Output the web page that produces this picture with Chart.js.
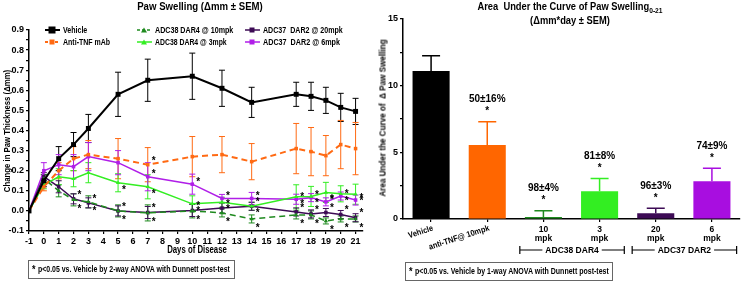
<!DOCTYPE html>
<html>
<head>
<meta charset="utf-8">
<script src="https://cdn.jsdelivr.net/npm/chart.js@4.4.1/dist/chart.umd.min.js"></script>
<style>
  body { margin: 0; background: #fff; }
  #wrap { position: relative; width: 742px; height: 282px; overflow: hidden;
    font-family: "Liberation Sans Narrow", "Liberation Sans", Arial, sans-serif; font-weight: bold; color: #000; }
  canvas { position: absolute; top: 0; }
  .t { position: absolute; white-space: nowrap; }
  .note { position: absolute; border: 1px solid #666; height: 19px; box-sizing: border-box; }
  .note span { position: absolute; left: 3px; top: 0; line-height: 17px; font-size: 8.5px; white-space: nowrap; transform-origin: left center; }
  .note b { font-size: 11px; vertical-align: -1px; margin-right: 3px; }
  .leg { position: absolute; font-size: 8.5px; white-space: nowrap; }
  .leg svg { position: absolute; left: 0; top: 2px; }
  .leg span { position: absolute; left: 18px; top: 0; line-height: 12px; transform-origin: left center; }
</style>
</head>
<body>
<div id="wrap">
  <canvas id="left" width="375" height="282" style="left:0"></canvas>
  <canvas id="right" width="367" height="282" style="left:375px"></canvas>

  <div class="t fit" data-w="126" data-t="translateX(-50%)" style="left:200px;top:0px;font-size:11px;">Paw Swelling (&Delta;mm &plusmn; SEM)</div>
  <div class="t fit" data-w="122" data-t="translate(-50%,-50%) rotate(-90deg)" style="left:6px;top:131px;font-size:9.5px;">Change in Paw Thickness (&Delta;mm)</div>
  <div class="t fit" data-w="60" data-t="translate(-50%,-50%)" style="left:197px;top:249px;font-size:10.5px;">Days of Disease</div>
  <div class="note" style="left:28px;top:260px;width:207px;"><span class="fit" data-w="198"><b>*</b>p&lt;0.05 vs. Vehicle by 2-way ANOVA with Dunnett post-test</span></div>

  <div class="t fit" data-w="185" data-t="translateX(-50%)" style="left:570px;top:0px;font-size:10.5px;">Area&nbsp; Under the Curve of Paw Swelling<sub style="font-size:7.5px">0-21</sub></div>
  <div class="t fit" data-w="80" data-t="translateX(-50%)" style="left:570px;top:14px;font-size:10.5px;">(&Delta;mm*day &plusmn; SEM)</div>
  <div class="t fit" data-w="157" data-t="translate(-50%,-50%) rotate(-90deg)" style="left:382px;top:118px;font-size:9.5px;">Area Under the Curve of &nbsp;&Delta; Paw Swelling</div>
  <div class="note" style="left:405px;top:262px;width:208px;"><span class="fit" data-w="200"><b>*</b>p&lt;0.05 vs. Vehicle by 1-way ANOVA with Dunnett post-test</span></div>
  <div id="legend"></div>
</div>

<script>
// ---- left panel: paw swelling over time ----
const days = [-1, 0, 1, 2, 3, 5, 7, 10, 12, 14, 17, 18, 19, 20, 21];

const vehicle    = [0, 0.15, 0.26, 0.33, 0.41, 0.58, 0.65, 0.67, 0.61, 0.54, 0.58, 0.57, 0.55, 0.515, 0.495];
const vehicleSem = [0, 0.03, 0.06, 0.06, 0.07, 0.11, 0.105, 0.115, 0.09, 0.075, 0.06, 0.07, 0.065, 0.07, 0.065];

const antiTnf    = [0, 0.12, 0.20, 0.26, 0.28, 0.26, 0.23, 0.27, 0.28, 0.245, 0.31, 0.295, 0.275, 0.33, 0.31];
const antiTnfSem = [0, 0.02, 0.04, 0.06, 0.07, 0.10, 0.085, 0.10, 0.09, 0.09, 0.125, 0.12, 0.10, 0.12, 0.13];

const adc38Hi    = [0, 0.16, 0.10, 0.055, 0.045, 0.0, -0.01, 0.0, -0.01, -0.04, -0.02, -0.02, -0.05, -0.04, -0.04];
const adc38HiSem = [0, 0.02, 0.03, 0.03, 0.03, 0.03, 0.04, 0.035, 0.02, 0.02, 0.02, 0.02, 0.015, 0.015, 0.015];

const adc38Lo    = [0, 0.13, 0.17, 0.16, 0.19, 0.14, 0.12, 0.035, 0.043, 0.023, 0.07, 0.072, 0.092, 0.085, 0.083];
const adc38LoSem = [0, 0.02, 0.04, 0.04, 0.05, 0.045, 0.06, 0.04, 0.025, 0.02, 0.06, 0.05, 0.05, 0.04, 0.05];

const adc37Hi    = [0, 0.17, 0.12, 0.06, 0.04, 0.0, -0.008, 0.002, 0.014, 0.023, -0.005, -0.015, -0.008, -0.018, -0.034];
const adc37HiSem = [0, 0.02, 0.03, 0.025, 0.025, 0.025, 0.03, 0.03, 0.025, 0.02, 0.02, 0.02, 0.02, 0.02, 0.02];

const adc37Lo    = [0, 0.20, 0.23, 0.22, 0.27, 0.24, 0.17, 0.133, 0.062, 0.062, 0.058, 0.066, 0.045, 0.074, 0.054];
const adc37LoSem = [0, 0.04, 0.05, 0.06, 0.07, 0.06, 0.07, 0.05, 0.02, 0.03, 0.025, 0.02, 0.02, 0.02, 0.025];

// days that carry a significance star, per group
const antiTnfStars = [7];
const adc38HiStars = [2, 3, 5, 7, 10, 12, 14, 17, 18, 19, 20, 21];
const adc38LoStars = [5, 7, 10, 12, 14, 17, 18, 19, 20, 21];
const adc37HiStars = [2, 3, 5, 7, 10, 12, 14, 17, 18, 19, 20, 21];
const adc37LoStars = [7, 10, 12, 14, 17, 18, 19, 20, 21];

const yRangeLeft = [-0.1, 0.9];
const xTicksLeft = [-1, 0, 1, 2, 3, 4, 5, 6, 7, 8, 9, 10, 11, 12, 13, 14, 15, 16, 17, 18, 19, 20, 21];

// ---- right panel: AUC bars ----
const groups   = ['Vehicle', 'anti-TNF@ 10mpk', ['10', 'mpk'], ['3', 'mpk'], ['20', 'mpk'], ['6', 'mpk']];
const auc      = [11.1, 5.55, 0.15, 2.08, 0.43, 2.83];
const aucSem   = [1.15, 1.75, 0.47, 0.95, 0.37, 0.97];
const inhibit  = [null, '50\u00b116%', '98\u00b14%', '81\u00b18%', '96\u00b13%', '74\u00b19%'];
const brackets = [{ label: 'ADC38 DAR4', from: 2, to: 3 }, { label: 'ADC37 DAR2', from: 4, to: 5 }];

const FONT = '"Liberation Sans Narrow", "Liberation Sans", Arial, sans-serif';
const C = {
  vehicle: '#000000', tnf: '#ff6a13', g10: '#1f8a1f', g3: '#33ee22', p20: '#3d0b55', p6: '#b01ee8'
};

const toXY = (vals) => vals.map((v, i) => ({ x: days[i], y: v }));

const series = [
  { label: 'Vehicle', data: vehicle, sem: vehicleSem, color: C.vehicle, dash: [], shape: 'rect', r: 3.5, w: 2, stars: [], sdy: 0 },
  { label: 'Anti-TNF mAb', data: antiTnf, sem: antiTnfSem, color: C.tnf, dash: [6, 4], shape: 'rect', r: 2.5, w: 2, stars: antiTnfStars, sdy: -5 },
  { label: 'ADC38 DAR4 @ 10mpk', data: adc38Hi, sem: adc38HiSem, color: C.g10, dash: [6, 4], shape: 'triangle', r: 2.5, w: 1.5, stars: adc38HiStars, sdy: 7 },
  { label: 'ADC38 DAR4 @ 3mpk', data: adc38Lo, sem: adc38LoSem, color: C.g3, dash: [], shape: 'triangle', r: 2.5, w: 1.5, stars: adc38LoStars, sdy: 5 },
  { label: 'ADC37  DAR2 @ 20mpk', data: adc37Hi, sem: adc37HiSem, color: C.p20, dash: [], shape: 'rect', r: 2.5, w: 1.5, stars: adc37HiStars, sdy: -6 },
  { label: 'ADC37  DAR2 @ 6mpk', data: adc37Lo, sem: adc37LoSem, color: C.p6, dash: [], shape: 'rect', r: 2.5, w: 1.5, stars: adc37LoStars, sdy: -4 }
];

// error bars drawn under the markers
const errorBars = {
  id: 'errorBars',
  beforeDatasetsDraw(chart, args, opts) {
    const ctx = chart.ctx;
    chart.data.datasets.forEach((ds, i) => {
      if (!ds.sem) return;
      const meta = chart.getDatasetMeta(i);
      const ys = chart.scales[meta.yAxisID];
      ctx.save();
      ctx.strokeStyle = ds.borderColor;
      ctx.lineWidth = opts.width || 1;
      meta.data.forEach((el, j) => {
        const v = ds.data[j].y;
        const e = ds.sem[j];
        if (!e) return;
        const top = ys.getPixelForValue(v + e);
        const bot = ys.getPixelForValue(v - e);
        const cap = opts.cap || 3;
        ctx.beginPath();
        ctx.moveTo(el.x, top); ctx.lineTo(el.x, bot);
        ctx.moveTo(el.x - cap, top); ctx.lineTo(el.x + cap, top);
        ctx.moveTo(el.x - cap, bot); ctx.lineTo(el.x + cap, bot);
        ctx.stroke();
      });
      ctx.restore();
    });
  }
};

const sigStars = {
  id: 'sigStars',
  afterDatasetsDraw(chart) {
    const ctx = chart.ctx;
    ctx.save();
    ctx.fillStyle = '#000';
    ctx.font = 'bold 10px ' + FONT;
    ctx.textAlign = 'left';
    ctx.textBaseline = 'middle';
    chart.data.datasets.forEach((ds, i) => {
      if (!ds.stars) return;
      const meta = chart.getDatasetMeta(i);
      ds.stars.forEach((day) => {
        const el = meta.data[days.indexOf(day)];
        if (el) ctx.fillText('*', el.x + 4, el.y + ds.sdy + 2);
      });
    });
    ctx.restore();
  }
};

const axisStyle = {
  border: { color: '#000', width: 1.5 },
  grid: { drawOnChartArea: false, drawTicks: true, tickLength: 3, color: '#000', lineWidth: 1.2 }
};

new Chart(document.getElementById('left'), {
  type: 'line',
  data: {
    datasets: series.map((s) => ({
      label: s.label,
      data: toXY(s.data),
      sem: s.sem,
      stars: s.stars,
      sdy: s.sdy,
      borderColor: s.color,
      backgroundColor: s.color,
      borderWidth: s.w,
      borderDash: s.dash,
      pointStyle: s.shape,
      pointRadius: s.r,
      pointBorderWidth: 0,
      tension: 0
    }))
  },
  options: {
    responsive: false,
    devicePixelRatio: 1,
    animation: false,
    layout: { padding: { top: 30, right: 12, left: 0, bottom: 0 } },
    plugins: { legend: { display: false }, tooltip: { enabled: false }, errorBars: { width: 1, cap: 3 } },
    scales: {
      x: {
        type: 'linear', min: -1, max: 21.5,
        ...axisStyle,
        afterBuildTicks: (s) => { s.ticks = xTicksLeft.map((v) => ({ value: v })); },
        afterFit: (s) => { s.height = 51; },
        ticks: { autoSkip: false, maxRotation: 0, padding: 2, color: '#000',
          font: { family: FONT, size: 9, weight: 'bold' } }
      },
      y: {
        min: yRangeLeft[0], max: yRangeLeft[1],
        ...axisStyle,
        afterFit: (s) => { s.width = 29; },
        ticks: { stepSize: 0.05, padding: 2, color: '#000', autoSkip: false,
          font: { family: FONT, size: 9, weight: 'bold' },
          callback: (v) => (Math.round(v * 100) % 10 === 0 ? v.toFixed(1) : '') }
      }
    }
  },
  plugins: [errorBars, sigStars]
});

// legend for the left panel (3 columns x 2 rows)
const legendCols = [45, 137, 245];
const legendRows = [24, 36];
const legendTextW = [24, 47, 78, 72, 80, 77];
const legend = document.getElementById('legend');
series.forEach((s, i) => {
  const item = document.createElement('div');
  item.className = 'leg';
  item.style.left = legendCols[Math.floor(i / 2)] + 'px';
  item.style.top = legendRows[i % 2] + 'px';
  const mark = s.shape === 'triangle'
    ? `<polygon points="7,1.5 10,6.5 4,6.5" fill="${s.color}"/>`
    : `<rect x="${7 - s.r}" y="${4 - s.r}" width="${2 * s.r}" height="${2 * s.r}" fill="${s.color}"/>`;
  item.innerHTML = `<svg width="15" height="8"><line x1="0" y1="4" x2="15" y2="4" stroke="${s.color}" stroke-width="${s.w}" stroke-dasharray="${s.dash.length ? '3,2' : ''}"/>${mark}</svg><span class="fit" data-w="${legendTextW[i]}">${s.label.replace(/ /g, '&nbsp;')}</span>`;
  legend.appendChild(item);
});

// squeeze html texts to the reference widths
document.querySelectorAll('.fit').forEach((el) => {
  const f = Number(el.dataset.w) / el.offsetWidth;
  el.style.transform = (el.dataset.t || '') + ` scaleX(${f.toFixed(3)})`;
});

// ---- right chart ----
const barColors = [C.vehicle, '#ff6600', C.g10, C.g3, C.p20, '#a80ee0'];

const barNotes = {
  id: 'barNotes',
  afterDraw(chart) {
    const ctx = chart.ctx;
    const xs = chart.scales.x;
    const ys = chart.scales.y;
    const base = ys.bottom;
    ctx.save();
    ctx.fillStyle = '#000';
    ctx.strokeStyle = '#000';
    // % inhibition + star above each treated bar
    ctx.textAlign = 'center';
    ctx.textBaseline = 'middle';
    auc.forEach((v, i) => {
      if (!inhibit[i]) return;
      const x = xs.getPixelForValue(i);
      const top = ys.getPixelForValue(v + aucSem[i]);
      ctx.font = 'bold 10px ' + FONT;
      ctx.fillText(inhibit[i], x, top - 22);
      ctx.fillText('*', x, top - 10);
    });
    // category labels
    ctx.font = 'bold 8.5px ' + FONT;
    groups.forEach((g, i) => {
      const x = xs.getPixelForValue(i);
      if (Array.isArray(g)) {
        ctx.textAlign = 'center';
        ctx.fillText(g[0], x, base + 11);
        ctx.fillText(g[1], x, base + 20);
      } else {
        ctx.save();
        ctx.translate(x + 2, base + 9);
        ctx.rotate(-18 * Math.PI / 180);
        ctx.scale(0.88, 1);
        ctx.textAlign = 'right';
        ctx.fillText(g, 0, 0);
        ctx.restore();
      }
    });
    // group brackets
    const step = xs.getPixelForValue(1) - xs.getPixelForValue(0);
    const by = base + 31;
    ctx.lineWidth = 1.2;
    ctx.font = 'bold 8.5px ' + FONT;
    brackets.forEach((b) => {
      const x0 = xs.getPixelForValue(b.from) - step * 0.42;
      const x1 = xs.getPixelForValue(b.to) + step * 0.44;
      const xm = (x0 + x1) / 2;
      const tw = ctx.measureText(b.label).width + 6;
      ctx.beginPath();
      ctx.moveTo(x0, by - 4); ctx.lineTo(x0, by + 4);
      ctx.moveTo(x1, by - 4); ctx.lineTo(x1, by + 4);
      ctx.moveTo(x0, by); ctx.lineTo(xm - tw / 2, by);
      ctx.moveTo(xm + tw / 2, by); ctx.lineTo(x1, by);
      ctx.stroke();
      ctx.textAlign = 'center';
      ctx.fillText(b.label, xm, by + 0.5);
    });
    ctx.restore();
  }
};

// each bar's upper error line takes its bar's colour
const barErrors = {
  id: 'barErrors',
  beforeDatasetsDraw(chart) {
    const ctx = chart.ctx;
    const meta = chart.getDatasetMeta(0);
    const ys = chart.scales.y;
    ctx.save();
    ctx.lineWidth = 1.5;
    meta.data.forEach((el, j) => {
      const top = ys.getPixelForValue(auc[j] + aucSem[j]);
      ctx.strokeStyle = barColors[j];
      ctx.beginPath();
      ctx.moveTo(el.x, top); ctx.lineTo(el.x, el.y);
      ctx.moveTo(el.x - 9, top); ctx.lineTo(el.x + 9, top);
      ctx.stroke();
    });
    ctx.restore();
  }
};

new Chart(document.getElementById('right'), {
  type: 'bar',
  data: {
    labels: groups.map((g) => (Array.isArray(g) ? g.join(' ') : g)),
    datasets: [{
      data: auc,
      backgroundColor: barColors,
      borderWidth: 0,
      barPercentage: 0.66,
      categoryPercentage: 1
    }]
  },
  options: {
    responsive: false,
    devicePixelRatio: 1,
    animation: false,
    layout: { padding: { top: 19, right: 2, left: 0, bottom: 0 } },
    plugins: { legend: { display: false }, tooltip: { enabled: false } },
    scales: {
      x: {
        ...axisStyle,
        grid: { ...axisStyle.grid, offset: false },
        afterFit: (s) => { s.height = 63; },
        ticks: { callback: () => '', maxRotation: 0 }
      },
      y: {
        min: 0, max: 15,
        ...axisStyle,
        afterFit: (s) => { s.width = 28; },
        ticks: { stepSize: 2.5, padding: 2, color: '#000', autoSkip: false,
          font: { family: FONT, size: 9, weight: 'bold' },
          callback: (v) => (v % 5 === 0 ? String(v) : '') }
      }
    }
  },
  plugins: [barErrors, barNotes]
});
</script>
</body>
</html>
